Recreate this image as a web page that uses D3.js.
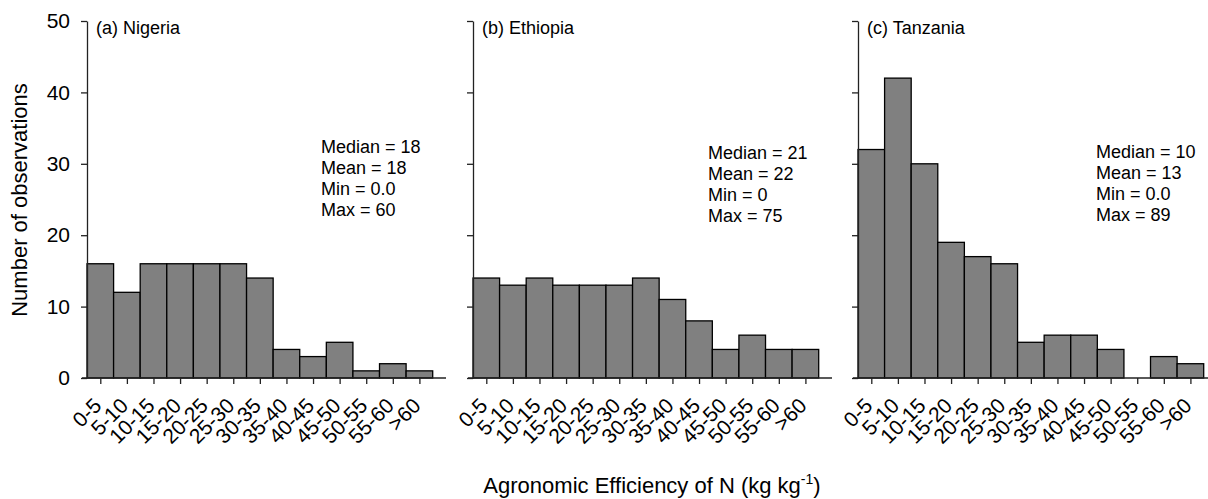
<!DOCTYPE html>
<html>
<head>
<meta charset="utf-8">
<script src="https://cdn.jsdelivr.net/npm/d3@7"></script>
<style>
  body { margin: 0; background: #fff; }
  text { font-family: "Liberation Sans", Arial, sans-serif; fill: #000; }
</style>
</head>
<body>
<svg id="chart" width="1208" height="499"></svg>
<script>
const categories = ['0-5', '5-10', '10-15', '15-20', '20-25', '25-30', '30-35',
  '35-40', '40-45', '45-50', '50-55', '55-60', '>60'];

const nigeria  = [16, 12, 16, 16, 16, 16, 14, 4, 3, 5, 1, 2, 1];
const ethiopia = [14, 13, 14, 13, 13, 13, 14, 11, 8, 4, 6, 4, 4];
const tanzania = [32, 42, 30, 19, 17, 16, 5, 6, 6, 4, 0, 3, 2];

const panelNames = ['(a) Nigeria', '(b) Ethiopia', '(c) Tanzania'];
const panelStats = [
  ['Median = 18', 'Mean = 18', 'Min = 0.0', 'Max = 60'],
  ['Median = 21', 'Mean = 22', 'Min = 0', 'Max = 75'],
  ['Median = 10', 'Mean = 13', 'Min = 0.0', 'Max = 89']
];
const yTicks = [0, 10, 20, 30, 40, 50];

const svg = d3.select('#chart');

const panels = [
  { data: nigeria,  left: 87,  statX: 321,  statY: 153 },
  { data: ethiopia, left: 473, statX: 708,  statY: 159 },
  { data: tanzania, left: 858, statX: 1096, statY: 158 }
];

const y = d3.scaleLinear().domain([0, 50]).range([378, 21]);

panels.forEach((p, k) => {
  const x = d3.scaleLinear().domain([0, 13.5]).range([p.left, p.left + 359]);
  const g = svg.append('g');

  // bars
  g.selectAll('rect.bar')
    .data(p.data)
    .enter().append('rect')
    .attr('class', 'bar')
    .attr('x', (d, i) => x(i))
    .attr('y', d => y(d))
    .attr('width', x(1) - x(0))
    .attr('height', d => y(0) - y(d))
    .attr('fill', d => d > 0 ? '#808080' : 'none')
    .attr('stroke', d => d > 0 ? '#000' : 'none')
    .attr('stroke-width', 1.3);

  // y axis
  const yAxis = d3.axisLeft(y)
    .tickValues(yTicks)
    .tickSize(6)
    .tickSizeOuter(0)
    .tickFormat(k === 0 ? d3.format('d') : () => '');
  const ya = g.append('g')
    .attr('transform', `translate(${p.left},0)`)
    .call(yAxis);
  ya.selectAll('path, line').attr('stroke', '#222').attr('stroke-width', 1.3);
  ya.selectAll('text').style('font-size', '21px').attr('x', -17);

  // x axis
  const xAxis = d3.axisBottom(x)
    .tickValues(categories.map((c, i) => i + 0.5))
    .tickSize(6)
    .tickFormat((d, i) => categories[i]);
  const xa = g.append('g')
    .attr('transform', `translate(0,${y(0)})`)
    .call(xAxis);
  xa.select('.domain').remove();
  xa.selectAll('line').attr('stroke', '#222').attr('stroke-width', 1.3);
  xa.append('line')
    .attr('x1', p.left - 5).attr('x2', x(13.5))
    .attr('stroke', '#222').attr('stroke-width', 1.5);
  xa.selectAll('text')
    .style('font-size', '21px')
    .attr('text-anchor', 'end')
    .attr('y', 0).attr('dy', 0)
    .attr('transform', 'translate(2,29) rotate(-45)');

  // panel label
  g.append('text')
    .attr('x', p.left + 9)
    .attr('y', 34)
    .style('font-size', '18px')
    .text(panelNames[k]);

  // stats
  g.selectAll('text.stat')
    .data(panelStats[k])
    .enter().append('text')
    .attr('class', 'stat')
    .attr('x', p.statX)
    .attr('y', (d, i) => p.statY + i * 21)
    .style('font-size', '18px')
    .text(d => d);
});

// axis titles
svg.append('text')
  .attr('transform', 'translate(27,200) rotate(-90)')
  .attr('text-anchor', 'middle')
  .style('font-size', '22px')
  .text('Number of observations');

const xt = svg.append('text')
  .attr('x', 652)
  .attr('y', 493)
  .attr('text-anchor', 'middle')
  .style('font-size', '22px');
xt.append('tspan').text('Agronomic Efficiency of N (kg kg');
xt.append('tspan').attr('dy', -9).style('font-size', '14px').text('-1');
xt.append('tspan').attr('dy', 9).text(')');
</script>
</body>
</html>
